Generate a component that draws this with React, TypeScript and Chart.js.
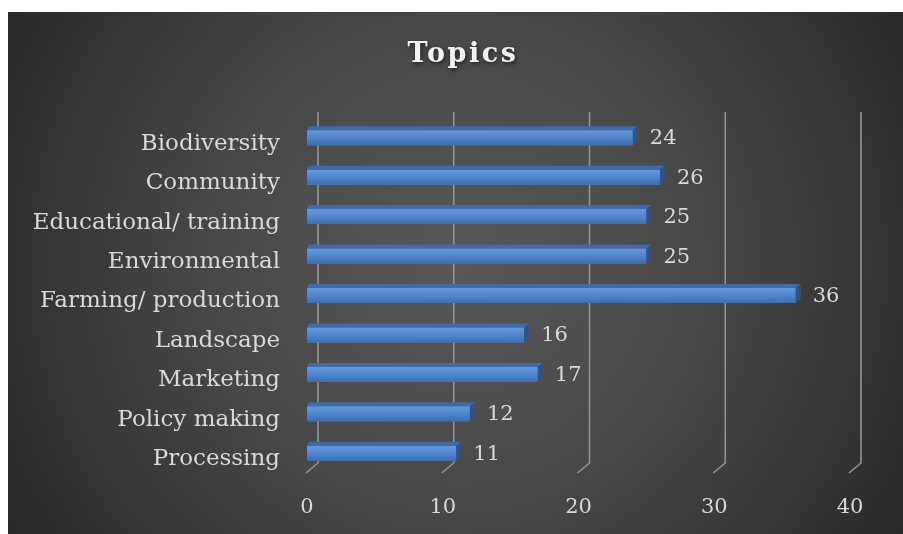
import { useEffect, useRef } from 'react';
import { Chart, registerables } from 'chart.js';

Chart.register(...registerables);

const categories = [
  'Biodiversity',
  'Community',
  'Educational/ training',
  'Environmental',
  'Farming/ production',
  'Landscape',
  'Marketing',
  'Policy making',
  'Processing',
];
const values = [24, 26, 25, 25, 36, 16, 17, 12, 11];
const xTickValues = [0, 10, 20, 30, 40];
const chartTitle = 'Topics';

const FONT = '"DejaVu Serif", "Liberation Serif", serif';

export default function App() {
  const ref = useRef<HTMLCanvasElement>(null);

  useEffect(() => {
    const canvas = ref.current!;

    const bg = {
      id: 'bg',
      beforeDraw(chart: any) {
        const { ctx, width, height } = chart;
        ctx.save();
        const g = ctx.createRadialGradient(450, 250, 0, 450, 250, 560);
        g.addColorStop(0, '#585858');
        g.addColorStop(0.45, '#474747');
        g.addColorStop(1, '#242424');
        ctx.fillStyle = g;
        ctx.fillRect(0, 0, width, height);
        ctx.restore();
      },
    };

    const grid3d = {
      id: 'grid3d',
      beforeDatasetsDraw(chart: any) {
        const { ctx } = chart;
        const xs = chart.scales.x;
        const { top, bottom } = chart.chartArea;
        ctx.save();
        ctx.strokeStyle = '#939393';
        ctx.lineWidth = 1.6;
        for (const v of xTickValues) {
          const fx = xs.getPixelForValue(v);
          const bx = fx + 11;
          ctx.beginPath();
          ctx.moveTo(bx, top - 6);
          ctx.lineTo(bx, bottom - 10);
          ctx.lineTo(fx - 1, bottom);
          ctx.stroke();
        }
        ctx.restore();
      },
    };

    const bars3d = {
      id: 'bars3d',
      afterDatasetsDraw(chart: any) {
        const { ctx } = chart;
        const meta = chart.getDatasetMeta(0);
        const data = chart.data.datasets[0].data;
        const dx = 5;
        const dy = 4;
        ctx.save();
        meta.data.forEach((el: any, i: number) => {
          const { x, y, base, height } = el.getProps(['x', 'y', 'base', 'height'], true);
          const t = y - height / 2;
          const b = y + height / 2;
          // front face
          const g = ctx.createLinearGradient(0, t, 0, b);
          g.addColorStop(0, '#6597da');
          g.addColorStop(0.45, '#5488ce');
          g.addColorStop(1, '#3d6db1');
          ctx.fillStyle = g;
          ctx.fillRect(base, t, x - base, height);
          // top face
          ctx.fillStyle = '#406aa8';
          ctx.beginPath();
          ctx.moveTo(base, t);
          ctx.lineTo(base + 2, t - dy);
          ctx.lineTo(x + dx, t - dy);
          ctx.lineTo(x, t);
          ctx.closePath();
          ctx.fill();
          // side face
          ctx.fillStyle = '#2b548c';
          ctx.beginPath();
          ctx.moveTo(x, t);
          ctx.lineTo(x + dx, t - dy);
          ctx.lineTo(x + dx, b - dy);
          ctx.lineTo(x, b);
          ctx.closePath();
          ctx.fill();
          // value label
          ctx.fillStyle = '#d9d9d9';
          ctx.font = `21px ${FONT}`;
          ctx.textAlign = 'left';
          ctx.textBaseline = 'middle';
          ctx.fillText(String(data[i]), x + 17, y + 1);
        });
        ctx.restore();
      },
    };

    const titlePlugin = {
      id: 'title3d',
      afterDraw(chart: any) {
        const { ctx } = chart;
        ctx.save();
        ctx.font = `bold 27px ${FONT}`;
        (ctx as any).letterSpacing = '2.5px';
        ctx.textAlign = 'center';
        ctx.textBaseline = 'alphabetic';
        ctx.shadowColor = 'rgba(0,0,0,0.6)';
        ctx.shadowBlur = 4;
        ctx.shadowOffsetX = 1;
        ctx.shadowOffsetY = 2;
        ctx.fillStyle = '#f2f2f2';
        ctx.fillText(chartTitle, 455, 50);
        ctx.restore();
      },
    };

    const chart = new Chart(canvas, {
      type: 'bar',
      data: {
        labels: categories,
        datasets: [
          {
            data: values,
            backgroundColor: '#5488ce',
            borderWidth: 0,
            barPercentage: 0.38,
            categoryPercentage: 1,
          },
        ],
      },
      options: {
        indexAxis: 'y',
        responsive: false,
        animation: false,
        layout: { padding: { top: 106, right: 53, bottom: 0, left: 0 } },
        plugins: {
          legend: { display: false },
          tooltip: { enabled: false },
          title: { display: false },
        },
        scales: {
          x: {
            min: 0,
            max: 40,
            ticks: {
              stepSize: 10,
              color: '#d9d9d9',
              font: { family: FONT, size: 21 },
              padding: 22,
            },
            grid: { display: false, drawTicks: false },
            border: { display: false },
            afterFit: (s: any) => {
              s.height = 61;
            },
          },
          y: {
            ticks: {
              color: '#d9d9d9',
              font: { family: FONT, size: 23 },
              padding: 27,
              labelOffset: 6,
            },
            grid: { display: false, drawTicks: false },
            border: { display: false },
            afterFit: (s: any) => {
              s.width = 299;
            },
          },
        },
      },
      plugins: [bg, grid3d, bars3d, titlePlugin],
    });

    return () => chart.destroy();
  }, []);

  return (
    <canvas
      ref={ref}
      width={895}
      height={522}
      style={{ position: 'absolute', left: 8, top: 12, display: 'block' }}
    />
  );
}
